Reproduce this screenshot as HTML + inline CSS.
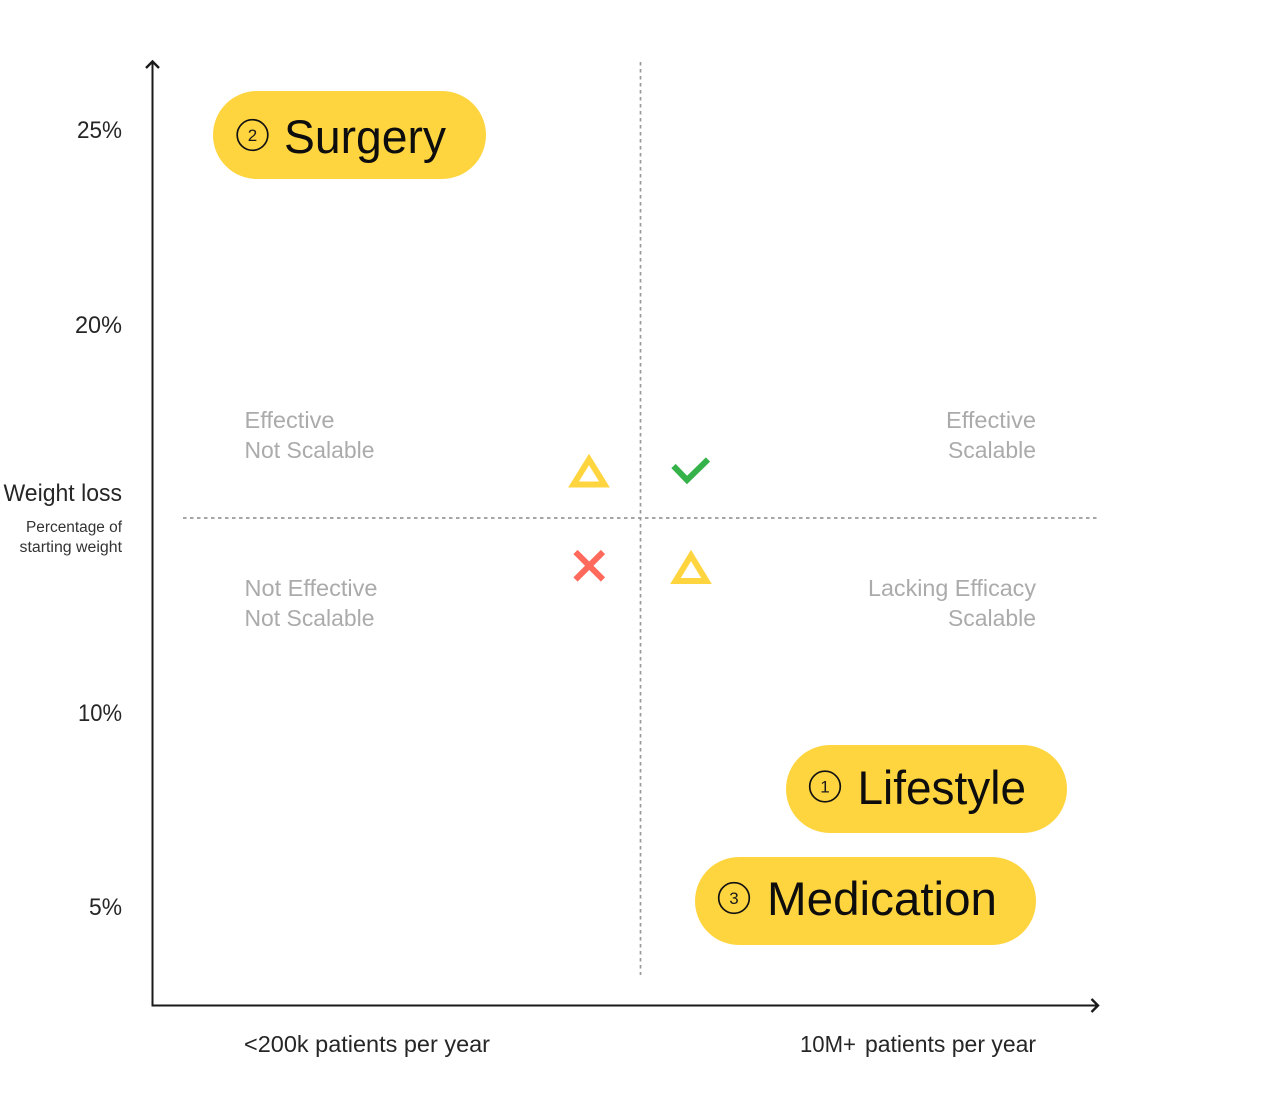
<!DOCTYPE html>
<html>
<head>
<meta charset="utf-8">
<style>
html,body{margin:0;padding:0;background:#fff;width:1280px;height:1113px;overflow:hidden}
svg{display:block}
text{font-family:"Liberation Sans",sans-serif}
.ax{font-size:24px;fill:#262626}
.g{font-size:23.5px;fill:#ababab}
.s{font-size:15.5px;fill:#333}
.p{font-size:47px;fill:#0d0d0d}
.b{font-size:23.5px;fill:#262626}
.n{font-size:17px;fill:#1a1a1a}
</style>
</head>
<body>
<svg width="1280" height="1113" viewBox="0 0 1280 1113" xmlns="http://www.w3.org/2000/svg">
<rect width="1280" height="1113" fill="#fff"/>

<!-- dashed guides -->
<line x1="640.500" y1="62" x2="640.500" y2="975" stroke="#999" stroke-width="1.700" stroke-dasharray="3.500 3.500"/>
<line x1="183" y1="518" x2="1098" y2="518" stroke="#999" stroke-width="1.700" stroke-dasharray="3.500 3.500"/>

<!-- axes -->
<path d="M152.500 62V1005.500H1097" fill="none" stroke="#1a1a1a" stroke-width="2"/>
<path d="M146 68L152.500 61.500L159 68" fill="none" stroke="#1a1a1a" stroke-width="2.400"/>
<path d="M1091.500 999L1098 1005.500L1091.500 1012" fill="none" stroke="#1a1a1a" stroke-width="2.400"/>

<!-- y labels -->
<text class="ax" x="122" y="138" text-anchor="end" textLength="45" lengthAdjust="spacingAndGlyphs">25%</text>
<text class="ax" x="122" y="333" text-anchor="end" textLength="47" lengthAdjust="spacingAndGlyphs">20%</text>
<text class="ax" x="122" y="721" text-anchor="end" textLength="44" lengthAdjust="spacingAndGlyphs">10%</text>
<text class="ax" x="122" y="915" text-anchor="end" textLength="33" lengthAdjust="spacingAndGlyphs">5%</text>
<text class="ax" x="3.500" y="501" textLength="118.500" lengthAdjust="spacingAndGlyphs">Weight loss</text>
<text class="s" x="26" y="532" textLength="96" lengthAdjust="spacingAndGlyphs">Percentage of</text>
<text class="s" x="19.500" y="552" textLength="102.500" lengthAdjust="spacingAndGlyphs">starting weight</text>

<!-- quadrant labels -->
<text class="g" x="244.500" y="428" textLength="90" lengthAdjust="spacingAndGlyphs">Effective</text>
<text class="g" x="244.500" y="458" textLength="130" lengthAdjust="spacingAndGlyphs">Not Scalable</text>
<text class="g" x="244.500" y="596" textLength="133" lengthAdjust="spacingAndGlyphs">Not Effective</text>
<text class="g" x="244.500" y="626" textLength="130" lengthAdjust="spacingAndGlyphs">Not Scalable</text>
<text class="g" x="946" y="428" textLength="90" lengthAdjust="spacingAndGlyphs">Effective</text>
<text class="g" x="948" y="458" textLength="88" lengthAdjust="spacingAndGlyphs">Scalable</text>
<text class="g" x="868" y="596" textLength="168" lengthAdjust="spacingAndGlyphs">Lacking Efficacy</text>
<text class="g" x="948" y="626" textLength="88" lengthAdjust="spacingAndGlyphs">Scalable</text>

<!-- icons -->
<path d="M589 459.500L604.500 484.500H573.500Z" fill="none" stroke="#ffd53f" stroke-width="6"/>
<path d="M691 555.500L706.500 581H675.500Z" fill="none" stroke="#ffd53f" stroke-width="6"/>
<path d="M673.500 466L687 480L708 459.500" fill="none" stroke="#36b24a" stroke-width="6"/>
<path d="M575.500 552L603 579.500M603 552L575.500 579.500" fill="none" stroke="#ff6a5c" stroke-width="6"/>

<!-- pills -->
<rect x="213" y="91" width="273" height="88" rx="44" fill="#ffd53f"/>
<circle cx="252.500" cy="135" r="15.300" fill="none" stroke="#111" stroke-width="1.700"/>
<text class="n" x="252.500" y="141" text-anchor="middle">2</text>
<text class="p" x="284" y="153" textLength="162" lengthAdjust="spacingAndGlyphs">Surgery</text>

<rect x="786" y="745" width="281" height="88" rx="44" fill="#ffd53f"/>
<circle cx="825" cy="786.500" r="15.300" fill="none" stroke="#111" stroke-width="1.700"/>
<text class="n" x="825" y="792.500" text-anchor="middle">1</text>
<text class="p" x="857.500" y="804" textLength="168.500" lengthAdjust="spacingAndGlyphs">Lifestyle</text>

<rect x="695" y="857" width="341" height="88" rx="44" fill="#ffd53f"/>
<circle cx="734" cy="898" r="15.300" fill="none" stroke="#111" stroke-width="1.700"/>
<text class="n" x="734" y="904" text-anchor="middle">3</text>
<text class="p" x="767" y="915" textLength="230" lengthAdjust="spacingAndGlyphs">Medication</text>

<!-- x labels -->
<text class="b" x="244" y="1052" textLength="246" lengthAdjust="spacingAndGlyphs">&lt;200k patients per year</text>
<text class="b" x="800" y="1052" textLength="56" lengthAdjust="spacingAndGlyphs">10M+</text>
<text class="b" x="865" y="1052" textLength="171" lengthAdjust="spacingAndGlyphs">patients per year</text>
</svg>
</body>
</html>
